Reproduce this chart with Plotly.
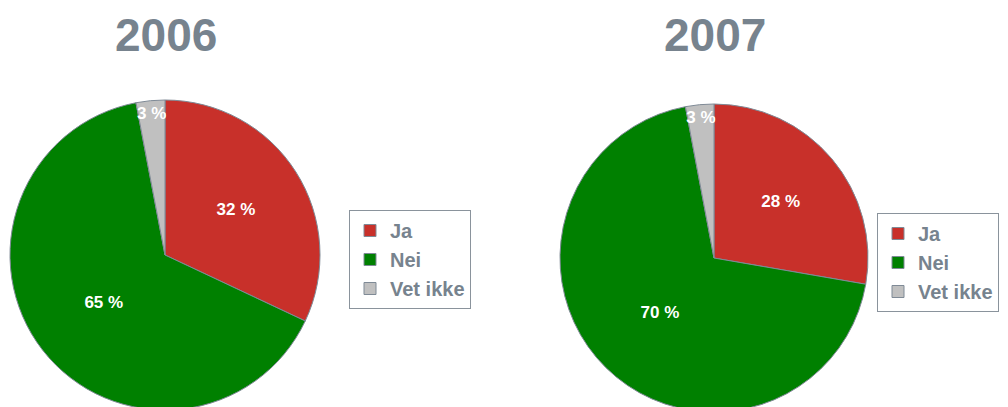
import plotly.graph_objects as go

labels = ["Ja", "Nei", "Vet ikke"]
values_2006 = [32, 65, 3]
values_2007 = [28, 70, 3]
years = ["2006", "2007"]
colors = ["#C8302A", "#008000", "#C0C0C0"]

W, H = 1008, 420
OFF = 8  # page body margin
title_color = "#77838E"
font_family = "Liberation Sans, Arial, sans-serif"

fig = go.Figure()


def px_x(x):
    return (x - OFF) / W


def px_y(y):
    return 1 - (y - OFF) / H


def add_pie(lbls, vals, box, legend):
    x0, y0, x1, y1 = box
    fig.add_trace(go.Pie(
        labels=lbls, values=vals, text=vals,
        texttemplate="%{text} %", textposition="inside",
        insidetextorientation="horizontal",
        textfont=dict(color="white", size=17, family=font_family, weight="bold"),
        marker=dict(colors=colors, line=dict(color="#7F8A96", width=1)),
        sort=False, direction="clockwise", rotation=0,
        domain=dict(x=[px_x(x0), px_x(x1)], y=[px_y(y1), px_y(y0)]),
        legend=legend, hovertemplate="%{label}: %{text} %<extra></extra>",
    ))


# second pie gets invisibly distinct labels so it keeps its own legend entries
labels_2007 = [lab + "\u200b" for lab in labels]

add_pie(labels, values_2006, (10, 100, 320, 410), "legend")
add_pie(labels_2007, values_2007, (560, 104, 868, 412), "legend2")

legend_style = dict(
    font=dict(color=title_color, size=20, family=font_family, weight="bold"),
    bgcolor="white", bordercolor="#8A939C", borderwidth=1,
    xanchor="left", yanchor="top",
)
fig.update_layout(
    width=W, height=H,
    margin=dict(l=0, r=0, t=0, b=0),
    paper_bgcolor="white", plot_bgcolor="white",
    legend=dict(x=px_x(349), y=px_y(210), **legend_style),
    legend2=dict(x=px_x(877), y=px_y(213), **legend_style),
    uniformtext=dict(minsize=17, mode="show"),
    showlegend=True,
)

for yr, cx in zip(years, [166, 715]):
    fig.add_annotation(
        text=yr, x=px_x(cx), y=px_y(35), xref="paper", yref="paper",
        showarrow=False, xanchor="center", yanchor="middle",
        font=dict(color=title_color, size=46, family=font_family, weight="bold"),
    )

fig.write_html(
    "out.html",
    post_script="document.documentElement.style.overflow='hidden';"
                "document.body.style.overflow='hidden';",
)
